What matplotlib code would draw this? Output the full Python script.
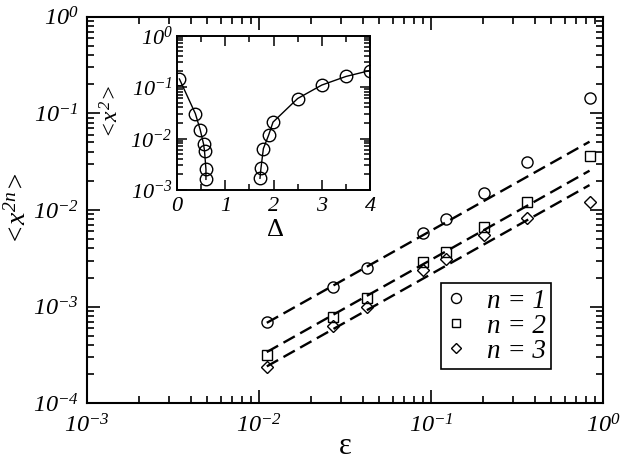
import numpy as np
import matplotlib
matplotlib.use("Agg")
import matplotlib.pyplot as plt
from matplotlib.ticker import FuncFormatter, LogLocator, MultipleLocator, NullFormatter

plt.rcParams['font.family'] = ['Liberation Serif', 'DejaVu Serif']
plt.rcParams['font.style'] = 'italic'
plt.rcParams['mathtext.fontset'] = 'custom'
plt.rcParams['mathtext.rm'] = 'Liberation Serif:italic'
plt.rcParams['mathtext.it'] = 'Liberation Serif:italic'
plt.rcParams['mathtext.default'] = 'it'

# ---- main data ----
eps = [0.0111, 0.0269, 0.0425, 0.0897, 0.1227, 0.2023, 0.361, 0.835]
x2_n1 = [7.0e-4, 1.58e-3, 2.51e-3, 5.74e-3, 8.0e-3, 0.0151, 0.0316, 0.145]
x2_n2 = [3.14e-4, 7.76e-4, 1.22e-3, 2.88e-3, 3.71e-3, 6.71e-3, 0.0122, 0.0362]
x2_n3 = [2.39e-4, 6.31e-4, 9.84e-4, 2.39e-3, 3.09e-3, 5.51e-3, 8.32e-3, 0.0121]

# fitted dashed lines (endpoints)
fit_x = [0.0111, 0.835]
fit_n1 = [6.8e-4, 0.0509]
fit_n2 = [3.39e-4, 0.0255]
fit_n3 = [2.41e-4, 0.0181]

legend_labels = ['n = 1', 'n = 2', 'n = 3']

# ---- inset data ----
delta_left = [0.05, 0.38, 0.48, 0.55, 0.57, 0.60, 0.60]
x2_left = [0.143, 0.0305, 0.0149, 7.85e-3, 5.74e-3, 2.53e-3, 1.61e-3]
delta_right = [1.72, 1.74, 1.79, 1.90, 1.99, 2.5, 3.0, 3.5, 4.0]
x2_right = [1.69e-3, 2.64e-3, 6.36e-3, 0.0117, 0.0208, 0.0597, 0.109, 0.160, 0.209]


def pow_fmt(v, pos):
    if v <= 0:
        return ''
    e = int(round(np.log10(v)))
    return r'$\mathdefault{10^{%d}}$' % e


W, H = 623, 462
fig = plt.figure(figsize=(W / 100, H / 100), dpi=100)

ax = fig.add_axes([87 / W, (H - 403.3) / H, 516 / W, 386.6 / H])
ax.set_xscale('log')
ax.set_yscale('log')
ax.set_xlim(1e-3, 1e0)
ax.set_ylim(1e-4, 1e0)

dash = (0, (5.5, 2.6))
for fy in (fit_n1, fit_n2, fit_n3):
    ax.plot(fit_x, fy, color='black', lw=1.7, linestyle=dash)

ms = 8
ax.plot(eps, x2_n1, 'o', ms=ms, mfc='none', mec='black', mew=1.0, label=legend_labels[0])
ax.plot(eps, x2_n2, 's', ms=ms - 1.2, mfc='none', mec='black', mew=1.0, label=legend_labels[1])
ax.plot(eps, x2_n3, 'D', ms=ms - 2.2, mfc='none', mec='black', mew=1.0, label=legend_labels[2])

ax.xaxis.set_major_locator(LogLocator(base=10, numticks=10))
ax.yaxis.set_major_locator(LogLocator(base=10, numticks=10))
ax.xaxis.set_minor_locator(LogLocator(base=10, subs=np.arange(2, 10), numticks=20))
ax.yaxis.set_minor_locator(LogLocator(base=10, subs=np.arange(2, 10), numticks=20))
ax.xaxis.set_major_formatter(FuncFormatter(pow_fmt))
ax.yaxis.set_major_formatter(FuncFormatter(pow_fmt))
ax.xaxis.set_minor_formatter(NullFormatter())
ax.yaxis.set_minor_formatter(NullFormatter())
ax.tick_params(which='both', direction='in', top=True, right=True, width=1.2)
ax.tick_params(which='major', length=9.5, labelsize=17.5)
ax.tick_params(which='minor', length=5)
ax.tick_params(axis='x', which='major', pad=8)
ax.tick_params(axis='y', which='major', pad=6)
for s in ax.spines.values():
    s.set_linewidth(1.5)

ax.set_xlabel('ε', fontsize=22, fontstyle='normal')
ax.xaxis.set_label_coords(0.5, (403.3 - 446) / 386.6)
ax.xaxis.label.set_verticalalignment('center')
ax.set_ylabel(r'$<\!x^{2n}\!>$', fontsize=20)
ax.yaxis.set_label_coords((18 - 87) / 516, 0.5)
ax.yaxis.label.set_verticalalignment('center')

leg = ax.legend(loc='lower right', bbox_to_anchor=(0.900, 0.0887), borderaxespad=0,
                frameon=True, fancybox=False, edgecolor='black', framealpha=1,
                prop={'family': 'Liberation Serif', 'style': 'italic', 'size': 19.5},
                handlelength=0.7, handletextpad=0.8, labelspacing=0.0,
                borderpad=0.2, markerscale=0.9)
leg.get_frame().set_linewidth(1.2)

# ---- inset ----
ins = fig.add_axes([177 / W, (H - 190) / H, 193 / W, 154.5 / H])
ins.set_yscale('log')
ins.set_xlim(0, 4)
ins.set_ylim(1e-3, 1e0)
ins.plot(delta_left, x2_left, '-o', color='black', lw=1.0, ms=9, mfc='none', mec='black', mew=1.0)
ins.plot(delta_right, x2_right, '-o', color='black', lw=1.0, ms=9, mfc='none', mec='black', mew=1.0)
ins.xaxis.set_major_locator(MultipleLocator(1))
ins.xaxis.set_minor_locator(MultipleLocator(0.5))
ins.yaxis.set_major_locator(LogLocator(base=10, numticks=10))
ins.yaxis.set_minor_locator(LogLocator(base=10, subs=np.arange(2, 10), numticks=20))
ins.yaxis.set_major_formatter(FuncFormatter(pow_fmt))
ins.yaxis.set_minor_formatter(NullFormatter())
ins.xaxis.set_major_formatter(FuncFormatter(lambda v, p: r'$\mathdefault{%d}$' % int(round(v))))
ins.tick_params(which='both', direction='in', top=True, right=True, width=1.1)
ins.tick_params(which='major', length=7, labelsize=16)
ins.tick_params(which='minor', length=4)
ins.tick_params(axis='x', which='major', pad=5)
ins.tick_params(axis='y', which='major', pad=3)
for s in ins.spines.values():
    s.set_linewidth(1.4)
ins.set_xlabel('Δ', fontsize=19, fontstyle='normal')
ins.xaxis.set_label_coords((275 - 177) / 193, (190 - 230) / 154.5)
ins.xaxis.label.set_verticalalignment('center')
ins.set_ylabel(r'$<\!x^{2}\!>$', fontsize=17)
ins.yaxis.set_label_coords((112 - 177) / 193, 0.5)
ins.yaxis.label.set_verticalalignment('center')

fig.savefig('out.png', dpi=100)
